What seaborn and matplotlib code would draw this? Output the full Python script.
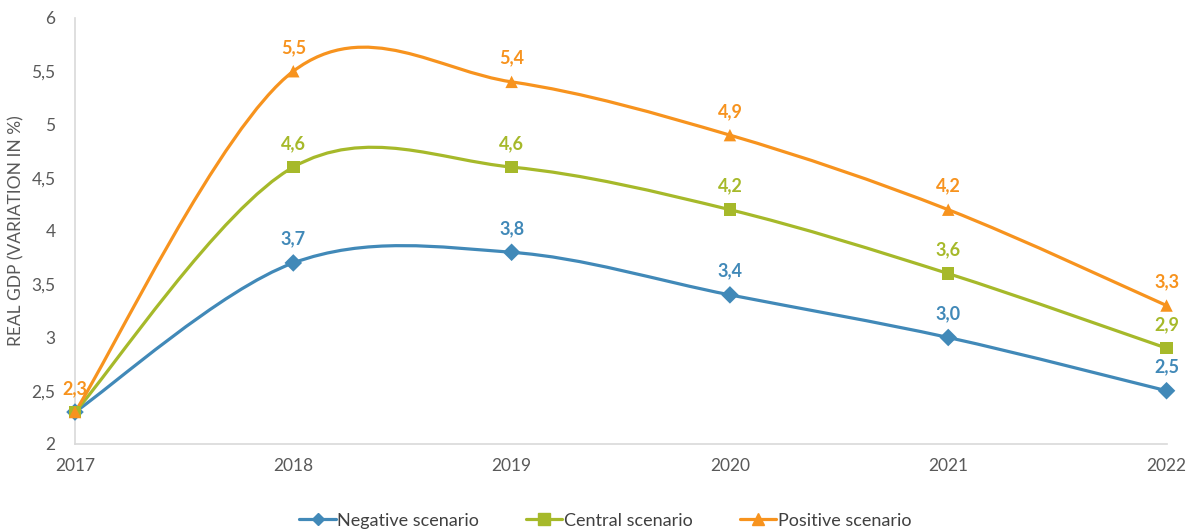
import numpy as np
import pandas as pd
import matplotlib
matplotlib.use("Agg")
import matplotlib.pyplot as plt
from matplotlib.path import Path
from matplotlib.patches import PathPatch
from matplotlib.lines import Line2D
import seaborn as sns

years = [2017, 2018, 2019, 2020, 2021, 2022]
negative = [2.3, 3.7, 3.8, 3.4, 3.0, 2.5]
central = [2.3, 4.6, 4.6, 4.2, 3.6, 2.9]
positive = [2.3, 5.5, 5.4, 4.9, 4.2, 3.3]
series_names = ["Negative scenario", "Central scenario", "Positive scenario"]
y_ticks = [2, 2.5, 3, 3.5, 4, 4.5, 5, 5.5, 6]

colors = ["#4189B8", "#A6B92A", "#F7931E"]
markers = ["D", "s", "^"]
msizes = [7, 9, 9]

sns.set_style("white")
plt.rcParams["font.family"] = ["Lato", "DejaVu Sans"]

df = pd.DataFrame({
    "idx": list(range(len(years))) * 3,
    "value": negative + central + positive,
    "series": [s for s in series_names for _ in years],
})

fig = plt.figure(figsize=(11.94, 5.29), dpi=100)
ax = fig.add_axes([0.0628, 0.1607, 0.9142, 0.8053])


def smooth_path(xs, ys):
    pts = np.column_stack([xs, ys]).astype(float)
    n = len(pts)
    verts = [pts[0]]
    codes = [Path.MOVETO]
    for i in range(n - 1):
        p0 = pts[i - 1] if i > 0 else pts[i]
        p1 = pts[i]
        p2 = pts[i + 1]
        p3 = pts[i + 2] if i + 2 < n else pts[i + 1]
        c1 = p1 + (p2 - p0) / 6.0
        c2 = p2 - (p3 - p1) / 6.0
        verts += [c1, c2, p2]
        codes += [Path.CURVE4] * 3
    return Path(verts, codes)


data_series = [negative, central, positive]
xs = np.arange(len(years))
for vals, col in zip(data_series, colors):
    patch = PathPatch(smooth_path(xs, vals), facecolor="none", edgecolor=col,
                      linewidth=2.3, zorder=3, clip_on=False)
    ax.add_patch(patch)

sns.scatterplot(data=df, x="idx", y="value", hue="series", style="series",
                palette=dict(zip(series_names, colors)),
                markers=dict(zip(series_names, markers)),
                s=80, edgecolor="none", legend=False, ax=ax, zorder=4,
                clip_on=False)

# data labels
for vals, col, name in zip(data_series, colors, series_names):
    for i, v in enumerate(vals):
        if i == 0 and name != "Positive scenario":
            continue
        ax.annotate(f"{v:.1f}".replace(".", ","), (i, v), xytext=(0, 11),
                    textcoords="offset points", ha="center", va="bottom",
                    color=col, fontsize=13, fontweight="bold", zorder=5)

ax.set_xlim(0, len(years) - 1)
ax.set_ylim(2, 6)
ax.set_yticks(y_ticks)
ax.set_yticklabels([f"{t:g}".replace(".", ",") for t in y_ticks])
ax.set_xticks(xs)
ax.set_xticklabels([str(y) for y in years])
ax.tick_params(axis="y", colors="#595959", labelsize=12.5, length=0, pad=14)
ax.tick_params(axis="x", colors="#595959", labelsize=12.5, length=0, pad=10)
ax.set_xlabel("")
ax.set_ylabel("REAL GDP (VARIATION IN %)", color="#595959", fontsize=12.5)
ax.yaxis.set_label_coords(-0.046, 0.5)

for side in ["top", "right"]:
    ax.spines[side].set_visible(False)
for side in ["left", "bottom"]:
    ax.spines[side].set_color("#D9D9D9")
    ax.spines[side].set_linewidth(1.2)

handles = [Line2D([0], [0], color=c, marker=m, markersize=ms - 1, linewidth=2.3,
                  markeredgecolor=c) for c, m, ms in zip(colors, markers, msizes)]
leg = fig.legend(handles, series_names, loc="lower center", ncol=3, frameon=False,
                 bbox_to_anchor=(0.507, -0.03), fontsize=13, handlelength=2.0,
                 columnspacing=2.6, handletextpad=0.1)
for t in leg.get_texts():
    t.set_color("#404040")

fig.savefig("out.png", dpi=100)
